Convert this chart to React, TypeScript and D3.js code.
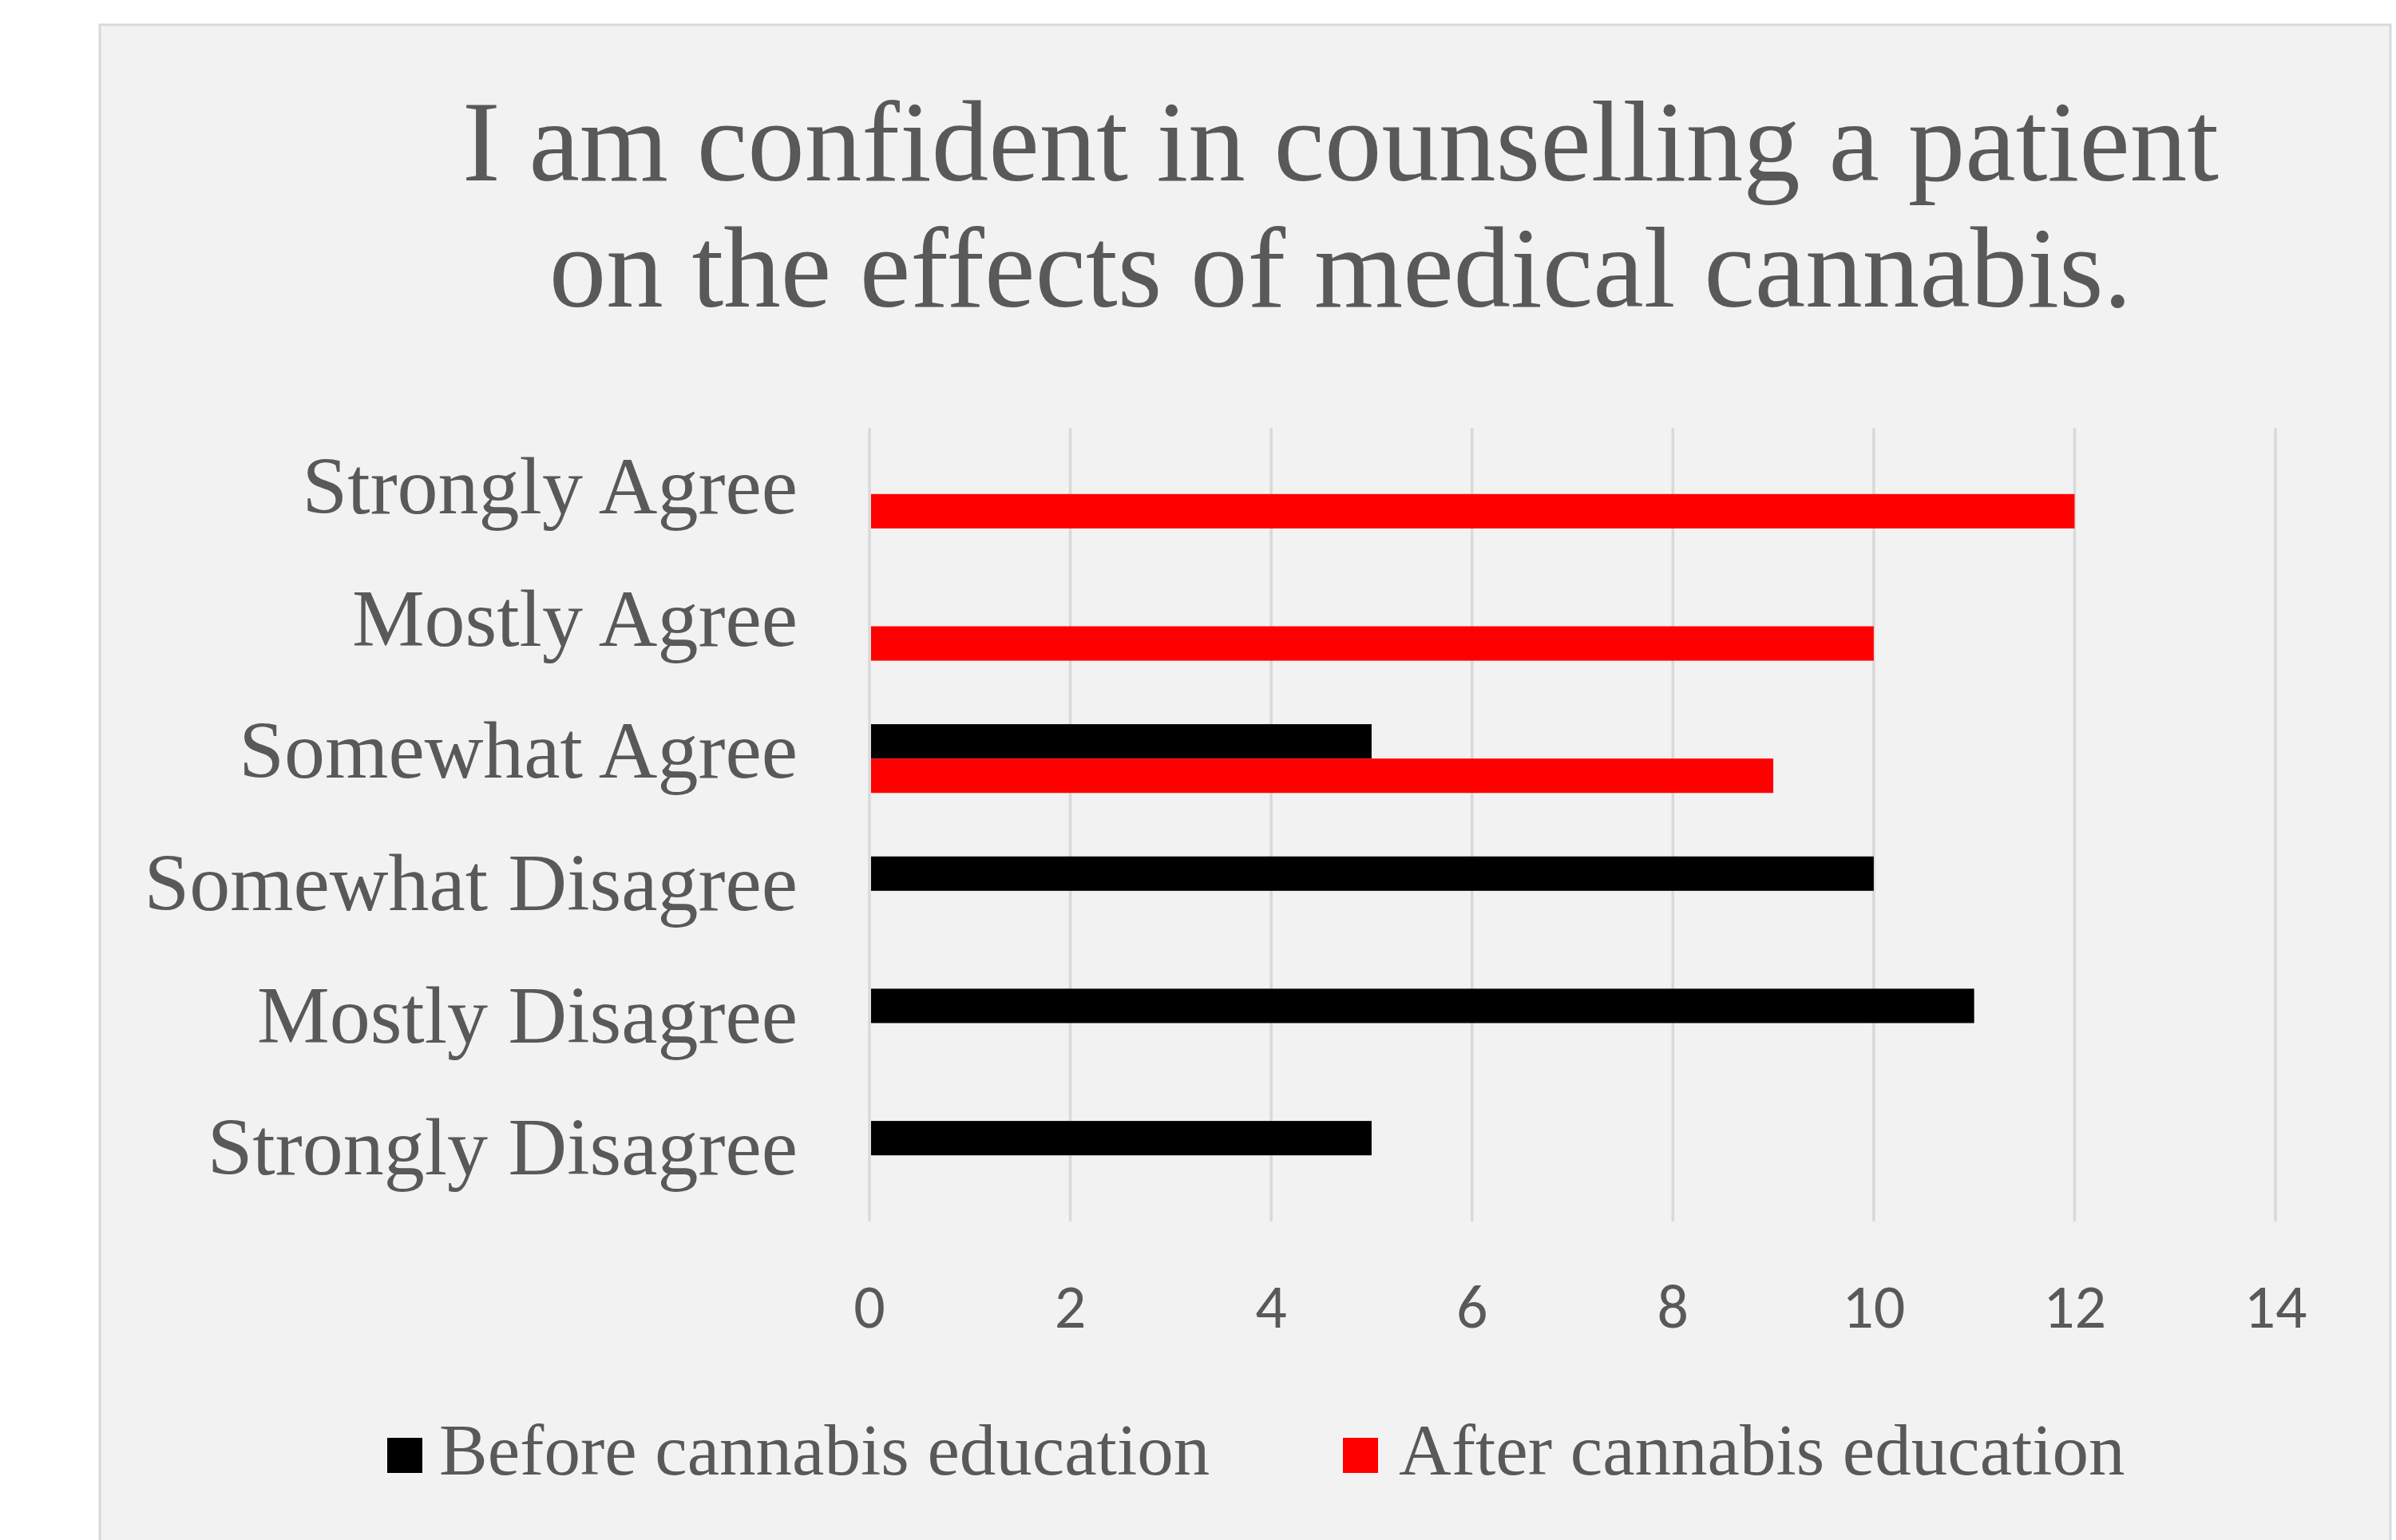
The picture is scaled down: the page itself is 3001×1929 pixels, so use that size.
import React from "react";
import * as d3 from "d3";

const categories = [
  "Strongly Agree",
  "Mostly Agree",
  "Somewhat Agree",
  "Somewhat Disagree",
  "Mostly Disagree",
  "Strongly Disagree",
];
const seriesNames = ["Before cannabis education", "After cannabis education"];
const beforeValues = [0, 0, 5, 10, 11, 5];
const afterValues = [12, 10, 9, 0, 0, 0];
const xTicks = [0, 2, 4, 6, 8, 10, 12, 14];
const titleLines = [
  "I am confident in counselling a patient",
  "on the effects of medical cannabis.",
];
const seriesColors = ["#000000", "#ff0000"];

const W = 3001;
const H = 1929;

export default function App() {
  const x = d3.scaleLinear().domain([0, 14]).range([1089, 2850]);
  const y = d3
    .scaleBand<string>()
    .domain(categories)
    .range([536, 1530])
    .paddingInner(0.48)
    .paddingOuter(0.24);
  const inner = d3
    .scaleBand<string>()
    .domain(seriesNames)
    .range([0, y.bandwidth()]);
  const valuesBySeries = [beforeValues, afterValues];
  const serif = "'Liberation Serif', 'Times New Roman', serif";
  const sans = "Carlito, Lato, 'Open Sans', sans-serif";
  const textColor = "#595959";

  const legendItems = [
    { name: seriesNames[0], color: seriesColors[0], sx: 485, tx: 550 },
    { name: seriesNames[1], color: seriesColors[1], sx: 1682, tx: 1752 },
  ];

  return (
    <svg
      width={W}
      height={H}
      style={{ position: "absolute", left: 0, top: 0, display: "block" }}
    >
      <rect x={0} y={0} width={W} height={H} fill="#ffffff" />
      <rect
        x={125}
        y={31}
        width={2869}
        height={H + 20}
        fill="#f2f2f2"
        stroke="#d9d9d9"
        strokeWidth={3}
      />
      {/* title */}
      {titleLines.map((t, i) => (
        <text
          key={t}
          x={1679}
          y={226 + i * 158}
          textAnchor="middle"
          fontFamily={serif}
          fontSize={143}
          fill={textColor}
        >
          {t}
        </text>
      ))}
      {/* gridlines */}
      {xTicks.map((t) => (
        <line
          key={t}
          x1={x(t)}
          x2={x(t)}
          y1={536}
          y2={1530}
          stroke="#d9d9d9"
          strokeWidth={3.5}
        />
      ))}
      {/* bars */}
      {categories.map((c, ci) =>
        seriesNames.map((s, si) => {
          const v = valuesBySeries[si][ci];
          if (!v) return null;
          return (
            <rect
              key={c + s}
              x={x(0) + 2}
              y={(y(c) as number) + (inner(s) as number)}
              width={x(v) - x(0) - 2}
              height={inner.bandwidth()}
              fill={seriesColors[si]}
            />
          );
        })
      )}
      {/* category labels */}
      {categories.map((c) => (
        <text
          key={c}
          x={999}
          y={(y(c) as number) + y.bandwidth() / 2 + 24}
          textAnchor="end"
          fontFamily={serif}
          fontSize={102}
          fill={textColor}
        >
          {c}
        </text>
      ))}
      {/* x tick labels */}
      {xTicks.map((t) => (
        <text
          key={t}
          x={x(t)}
          y={1663}
          textAnchor="middle"
          fontFamily={sans}
          fontSize={78}
          fill={textColor}
        >
          {t}
        </text>
      ))}
      {/* legend */}
      {legendItems.map((l) => (
        <g key={l.name}>
          <rect x={l.sx} y={1801} width={44} height={44} fill={l.color} />
          <text
            x={l.tx}
            y={1847}
            fontFamily={serif}
            fontSize={91}
            fill={textColor}
          >
            {l.name}
          </text>
        </g>
      ))}
    </svg>
  );
}
